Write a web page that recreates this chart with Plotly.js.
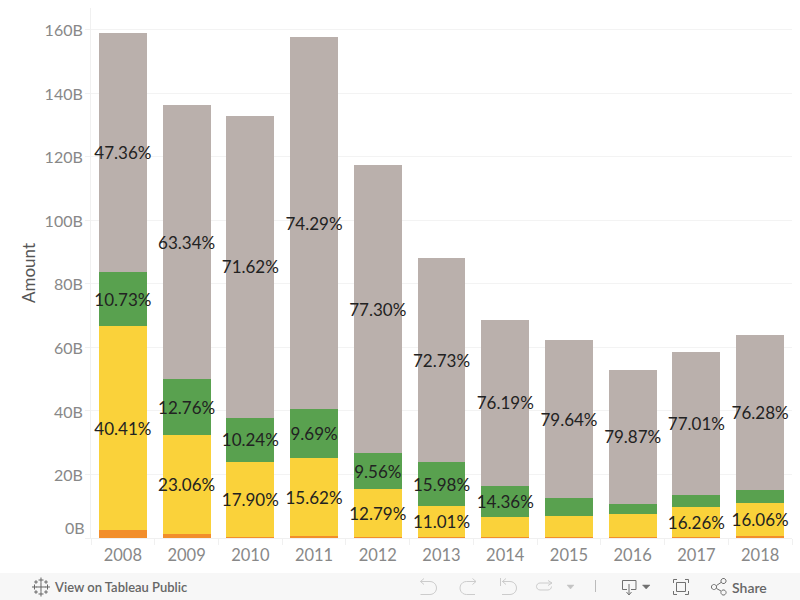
<!DOCTYPE html>
<html><head><meta charset="utf-8">
<script src="https://cdn.plot.ly/plotly-3.0.0.min.js"></script>
<style>html,body{margin:0;padding:0;background:#fff}#c{width:800px;height:600px}</style>
</head><body><div id="c"></div>
<script>
const years=['2008','2009','2010','2011','2012','2013','2014','2015','2016','2017','2018'];
const orange=[2.5,1.2,0.3,0.6,0.2,0.2,0.2,0.2,0.2,0.2,0.6];
const yellow=[64.2,31.2,23.6,24.6,15.2,9.8,6.4,6.7,7.4,9.6,10.4];
const green=[17.0,17.6,13.9,15.4,11.3,13.9,9.8,5.7,3.1,3.7,4.1];
const grey=[75.2,86.2,95.0,117.0,90.7,64.2,52.2,49.7,42.2,45.0,48.8];
const yellowText=['40.41%','23.06%','17.90%','15.62%','12.79%','11.01%','','','','16.26%','16.06%'];
const greenText=['10.73%','12.76%','10.24%','9.69%','9.56%','15.98%','14.36%','','','',''];
const greyText=['47.36%','63.34%','71.62%','74.29%','77.30%','72.73%','76.19%','79.64%','79.87%','77.01%','76.28%'];
const tickVals=[0,20,40,60,80,100,120,140,160];
const tickText=['','20B','40B','60B','80B','100B','120B','140B','160B'];
const zeroTick='0B';
const footerLeft='View on Tableau Public', footerRight='Share';

const L=91,R=792,T=8,B=538;
const px=x=>(x-L)/(R-L), py=y=>(B-y)/(B-T);
function path(s){
  return s.trim().split(/\s+/).map(tok=>{
    if(tok==='Z')return 'Z';
    const c=tok[0],[x,y]=tok.slice(1).split(',').map(Number);
    return c+px(x).toFixed(5)+','+py(y).toFixed(5);
  }).join(' ');
}
function arc(cx,cy,r,a0,a1,n){let o=[];for(let i=0;i<=n;i++){const a=(a0+(a1-a0)*i/n)*Math.PI/180;o.push('L'+(cx+r*Math.cos(a)).toFixed(1)+','+(cy+r*Math.sin(a)).toFixed(1));}return o.join(' ');}
const circle=(cx,cy,r)=>arc(cx,cy,r,0,360,14).replace('L','M');
const icon=(s,col,w=1,fill)=>({type:'path',xref:'paper',yref:'paper',path:path(s),line:{color:col,width:w},fillcolor:fill||'rgba(0,0,0,0)',layer:'above'});
const band={type:'rect',xref:'paper',yref:'paper',x0:px(0),x1:px(800),y0:py(600),y1:py(573),fillcolor:'#f7f7f7',line:{width:0},layer:'below'};
const lt='#cccccc',dk='#707070';
const shapes=[band,
 icon('M420.5,581.5 L430,581.5 '+arc(430,588,6.5,-90,90,10)+' L420.5,594.5',lt),
 icon('M424,578.5 L420.5,581.5 L424,584.5',lt),
 icon('M476,581.5 L466.5,581.5 '+arc(466.5,588,6.5,-90,-270,10)+' L475,594.5',lt),
 icon('M472.5,578.5 L476,581.5 L472.5,584.5',lt),
 icon('M500.5,578 L500.5,586',lt),
 icon('M502,581.5 L510,581.5 '+arc(510,588,6.5,-90,90,10)+' L502,594.5',lt),
 icon('M506,578.5 L502.5,581.5 L506,584.5',lt),
 icon('M552,583 L540,583 '+arc(540,586.5,3.5,-90,-270,8)+' L548,590 '+arc(548,586.5,3.5,90,0,4),lt),
 icon('M548,580.5 L552,583 L548,585.5',lt),
 icon('M567,585 L574,585 L570.5,589 Z','#c4c4c4',0.5,'#c4c4c4'),
 icon('M595.5,580 L595.5,592','#bbbbbb',1),
 icon('M627,589.5 L622.5,589.5 L622.5,580.5 L636,580.5 L636,589.5 L631,589.5',dk),
 icon('M629,584 L629,594',dk),
 icon('M626.5,592 L629,595 L631.5,592',dk),
 icon('M642.5,585 L650,585 L646.2,589 Z',dk,0.5,dk),
 icon('M673.5,583 L673.5,579.5 L677,579.5 M685,579.5 L688.5,579.5 L688.5,583 M688.5,591 L688.5,594.5 L685,594.5 M677,594.5 L673.5,594.5 L673.5,591',dk),
 icon('M676.5,582.5 L685.5,582.5 L685.5,591.5 L676.5,591.5 Z',dk),
 icon(circle(714,587,2.6),dk),
 icon(circle(723.5,581,2.6),dk),
 icon(circle(723.5,592.5,2.6),dk),
 icon('M716.5,585.5 L721,582.5',dk),
 icon('M716.5,588.5 L721,591',dk)
];
[[41,587,4.5,1],[41,580,2.5,1],[41,594,2.5,1],[34.5,587,2.5,1],[47.5,587,2.5,1],[36,582,1.8,1],[46,582,1.8,1],[36,592,1.8,1],[46,592,1.8,1]].forEach(([x,y,r,w])=>{
  shapes.push(icon(`M${x-r},${y} L${x+r},${y} M${x},${y-r} L${x},${y+r}`,'#666666',w));
});
const tf={family:'Lato, "Open Sans", sans-serif',size:17,color:'#222222'};
const bar=(name,y,color,text)=>({type:'bar',name,x:years,y,text,marker:{color,line:{width:0}},
  textposition:'inside',insidetextanchor:'middle',textangle:0,constraintext:'none',
  insidetextfont:tf,textfont:tf,cliponaxis:false,hoverinfo:'skip'});
const data=[bar('a',orange,'#f28e2b',orange.map(()=>'')),bar('b',yellow,'#fad23a',yellowText),
 bar('c',green,'#59a14f',greenText),bar('d',grey,'#bab0ac',greyText)];
const xFont={size:16.5,color:'#888888'}, yFont={size:16,color:'#888888'};
const layout={width:800,height:600,barmode:'stack',bargap:0.247,showlegend:false,
 paper_bgcolor:'#fff',plot_bgcolor:'#fff',
 margin:{l:L,r:800-R,t:T,b:600-B,pad:0},
 font:{family:'Lato, "Open Sans", sans-serif'},
 xaxis:{type:'category',categoryorder:'array',categoryarray:years,tickson:'boundaries',ticks:'outside',ticklen:6,tickcolor:'#f0f0f0',tickwidth:1,
   tickfont:xFont,ticklabelstandoff:2,showgrid:false,showline:true,linecolor:'#f0f0f0',linewidth:1,zeroline:false,fixedrange:true},
 yaxis:{range:[0,166.8],tickvals:tickVals,ticktext:tickText,ticks:'outside',ticklen:5,tickcolor:'#f0f0f0',tickwidth:1,
   tickfont:yFont,ticklabelshift:1,ticklabelstandoff:-1,showgrid:true,gridcolor:'#f3f3f3',gridwidth:1,showline:true,linecolor:'#f0f0f0',linewidth:1,zeroline:false,
   title:{text:'Amount',font:{size:17,color:'#555555'},standoff:4},fixedrange:true},
 shapes,
 annotations:[
  {xref:'paper',yref:'y',x:0,y:0,xshift:-5,yshift:11,text:zeroTick,showarrow:false,xanchor:'right',yanchor:'middle',font:yFont,borderpad:0},
  {xref:'paper',yref:'paper',x:px(52),y:py(587),text:footerLeft,showarrow:false,xanchor:'left',yanchor:'middle',font:{family:'Lato, sans-serif',size:13,color:'#666666',weight:600}},
  {xref:'paper',yref:'paper',x:px(730),y:py(587),text:footerRight,showarrow:false,xanchor:'left',yanchor:'middle',font:{family:'Lato, sans-serif',size:14,color:'#666666',weight:600}}
 ]};
Plotly.newPlot('c',data,layout,{displayModeBar:false,staticPlot:true});
</script></body></html>
